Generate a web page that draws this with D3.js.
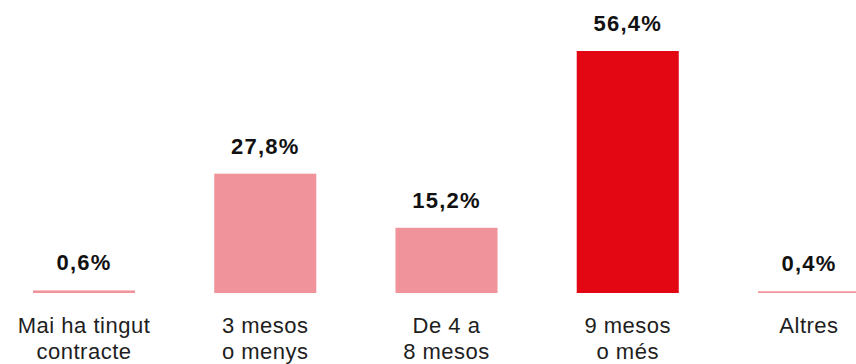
<!DOCTYPE html>
<html><head><meta charset="utf-8">
<script src="https://cdn.jsdelivr.net/npm/d3@7"></script>
<style>body{margin:0;background:#fff}svg{display:block}</style>
</head><body>
<svg id="c" width="856" height="364"></svg>
<script>
const categories = [["Mai ha tingut","contracte"],["3 mesos","o menys"],["De 4 a","8 mesos"],["9 mesos","o més"],["Altres"]];
const values = [0.6, 27.8, 15.2, 56.4, 0.4];
const valueLabels = ["0,6%","27,8%","15,2%","56,4%","0,4%"];
const colors = ["#f0939a","#f0939a","#f0939a","#e30613","#f0939a"];

const svg = d3.select("#c");
const idx = d3.range(values.length);
const x = d3.scaleBand().domain(idx).range([33, 860]).paddingInner(0.437).paddingOuter(0);
const y = d3.scaleLinear().domain([0, 56.4]).range([293, 51]);
const font = "'Liberation Sans', Arial, Helvetica, sans-serif";

svg.selectAll("rect.bar").data(idx).join("rect")
  .attr("x", i => x(i)).attr("width", x.bandwidth())
  .attr("y", i => y(values[i])).attr("height", i => y(0) - y(values[i]))
  .attr("fill", i => colors[i]);

svg.selectAll("text.val").data(idx).join("text")
  .attr("x", i => x(i) + x.bandwidth()/2)
  .attr("y", i => y(values[i]) - 20)
  .attr("text-anchor","middle").attr("font-family",font).attr("font-weight","bold")
  .attr("font-size",22).attr("letter-spacing","1.2px").attr("fill","#111")
  .text(i => valueLabels[i]);

const cat = svg.selectAll("text.cat").data(idx).join("text")
  .attr("text-anchor","middle").attr("font-family",font).attr("font-size",22)
  .attr("letter-spacing","0.5px").attr("fill","#1e1e1e");
cat.each(function(i){
  const t = d3.select(this);
  categories[i].forEach((line,k) => {
    t.append("tspan").attr("x", x(i) + x.bandwidth()/2).attr("y", 333 + k*26).text(line);
  });
});
</script>
</body></html>
